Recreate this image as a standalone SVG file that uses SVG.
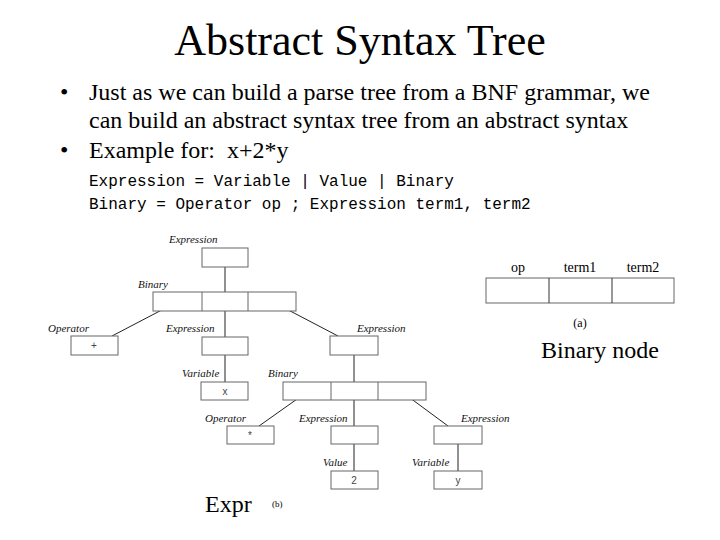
<svg xmlns="http://www.w3.org/2000/svg" width="720" height="540" viewBox="0 0 720 540">
<style>
.serif{font-family:"Liberation Serif","Times New Roman",serif;fill:#000}
.mono{font-family:"Liberation Mono","Courier New",monospace;font-size:16px;fill:#000}
.lbl{font-family:"Liberation Serif","Times New Roman",serif;font-style:italic;font-size:11px;fill:#111}
.val{font-family:"Liberation Sans",Arial,sans-serif;font-size:10px;fill:#444;text-anchor:middle}
.box{fill:#fff;stroke:#666;stroke-width:1}
.conn{stroke:#222;stroke-width:1;fill:none}
</style>
<rect width="720" height="540" fill="#fff"/>
<text class="serif" x="360" y="55" font-size="44" text-anchor="middle">Abstract Syntax Tree</text>
<g class="serif" font-size="24">
<text x="60" y="100">•</text>
<text x="89" y="100">Just as we can build a parse tree from a BNF grammar, we</text>
<text x="89" y="128">can build an abstract syntax tree from an abstract syntax</text>
<text x="60" y="158">•</text>
<text x="89" y="158" xml:space="preserve">Example for:  x+2*y</text>
</g>
<text class="mono" x="89" y="186">Expression = Variable | Value | Binary</text>
<text class="mono" x="89" y="209">Binary = Operator op ; Expression term1, term2</text>

<g id="binary-node-a">
<rect class="box" x="486" y="278" width="188" height="25" stroke="#333"/>
<line x1="549" y1="278" x2="549" y2="303" stroke="#333"/>
<line x1="612" y1="278" x2="612" y2="303" stroke="#333"/>
<g class="serif" font-size="14" text-anchor="middle">
<text x="518" y="272">op</text>
<text x="580" y="272">term1</text>
<text x="643" y="272">term2</text>
<text x="580" y="327" font-size="12">(a)</text>
</g>
<text class="serif" x="541" y="358" font-size="24">Binary node</text>
</g>

<g id="connectors">
<line class="conn" x1="225" y1="258" x2="225" y2="382"/>
<line class="conn" x1="177" y1="302" x2="112" y2="336"/>
<line class="conn" x1="273" y1="302" x2="338" y2="336"/>
<line class="conn" x1="354" y1="346" x2="354" y2="471"/>
<line class="conn" x1="307" y1="392" x2="259" y2="426"/>
<line class="conn" x1="402" y1="392" x2="448" y2="426"/>
<line class="conn" x1="458" y1="435" x2="458" y2="471"/>
</g>

<g id="expr-root">
<rect class="box" x="202" y="248" width="46" height="19" fill="none"/>
<text class="lbl" x="169" y="243">Expression</text>
</g>
<g id="binary-1">
<rect class="box" x="153" y="292" width="143" height="19" fill="none"/>
<line x1="202" y1="292" x2="202" y2="311" stroke="#666"/>
<line x1="248" y1="292" x2="248" y2="311" stroke="#666"/>
<text class="lbl" x="138" y="288">Binary</text>
</g>
<g id="operator-plus">
<rect class="box" x="71" y="336" width="47" height="19"/>
<text class="val" x="94" y="349">+</text>
<text class="lbl" x="48" y="332">Operator</text>
</g>
<g id="expr-left">
<rect class="box" x="202" y="337" width="46" height="18" fill="none"/>
<text class="lbl" x="166" y="332">Expression</text>
</g>
<g id="expr-right">
<rect class="box" x="330" y="336" width="48" height="19" fill="none"/>
<text class="lbl" x="357" y="332">Expression</text>
</g>
<g id="variable-x">
<rect class="box" x="201" y="382" width="47" height="18"/>
<text class="val" x="225" y="395">x</text>
<text class="lbl" x="182" y="377">Variable</text>
</g>
<g id="binary-2">
<rect class="box" x="283" y="382" width="143" height="18" fill="none"/>
<line x1="331" y1="382" x2="331" y2="400" stroke="#666"/>
<line x1="378" y1="382" x2="378" y2="400" stroke="#666"/>
<text class="lbl" x="268" y="377">Binary</text>
</g>
<g id="operator-times">
<rect class="box" x="227" y="426" width="47" height="18"/>
<text class="val" x="250" y="439">*</text>
<text class="lbl" x="205" y="422">Operator</text>
</g>
<g id="expr-mid">
<rect class="box" x="331" y="426" width="47" height="18" fill="none"/>
<text class="lbl" x="299" y="422">Expression</text>
</g>
<g id="expr-right2">
<rect class="box" x="434" y="426" width="48" height="18" fill="none"/>
<text class="lbl" x="461" y="422">Expression</text>
</g>
<g id="value-2">
<rect class="box" x="331" y="471" width="47" height="18"/>
<text class="val" x="354" y="484">2</text>
<text class="lbl" x="323" y="466">Value</text>
</g>
<g id="variable-y">
<rect class="box" x="434" y="471" width="48" height="18"/>
<text class="val" x="458" y="484">y</text>
<text class="lbl" x="412" y="466">Variable</text>
</g>
<text class="serif" x="205" y="512" font-size="24">Expr</text>
<text class="serif" x="272" y="507" font-size="9">(b)</text>
</svg>
